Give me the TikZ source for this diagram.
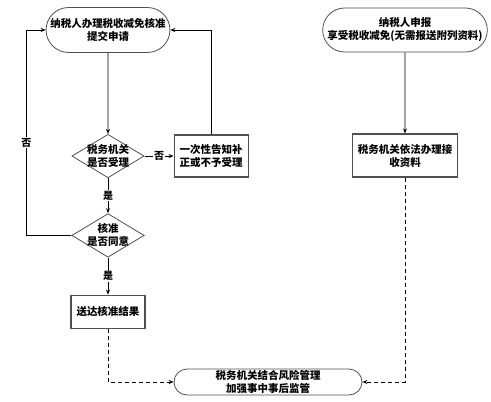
\documentclass[tikz,border=0pt]{standalone}
\usepackage{fontspec}
\setmainfont{Noto Sans CJK SC}
\usepackage{tikz}
\usetikzlibrary{arrows.meta,positioning,shapes.geometric,shapes.misc}
\definecolor{edge}{HTML}{505050}
\tikzset{
  blk/.style={draw=edge,line width=1.3pt,align=center,font=\fontsize{10.5}{13}\selectfont\bfseries,
              inner sep=1pt,fill=white},
  term/.style={blk,rounded rectangle,line width=0.8pt},
  dec/.style={blk,diamond,aspect=1.66,line width=0.8pt,inner sep=-1.5pt},
  box/.style={blk,rectangle},
  lbl/.style={font=\fontsize{10}{12}\selectfont\bfseries,fill=white,inner sep=1pt},
  arr/.style={-{Stealth[length=5pt,width=4pt]},line width=0.8pt,black},
  darr/.style={arr,dash pattern=on 4pt off 3pt},
}
\begin{document}
\begin{tikzpicture}[x=1pt,y=1pt]
  \useasboundingbox (0,0) rectangle (491,-402);
  \node[term,minimum width=118pt,minimum height=45pt] (apply) at (108,-30)
       {纳税人办理税收减免核准\\提交申请};
  \node[dec,below=81pt of apply] (accept) {税务机关\\是否受理};
  \node[box,minimum width=74pt,minimum height=42pt,right=29pt of accept] (notify) {一次性告知补\\正或不予受理};
  \node[dec,below=35pt of accept] (approve) {核准\\是否同意};
  \node[box,minimum width=74pt,minimum height=33pt,below=37pt of approve] (result) {送达核准结果};

  \node[term,minimum width=162pt,minimum height=44pt] (declare) at (405,-30)
       {纳税人申报\\享受税收减免(无需报送附列资料)};
  \node[box,minimum width=105pt,minimum height=43pt,below=81pt of declare] (receive) {税务机关依法办理接\\收资料};

  \node[term,minimum width=190pt,minimum height=26pt] (monitor) at (268,-382)
       {税务机关结合风险管理\\加强事中事后监管};

  \draw[arr] (apply) -- (accept);
  \draw[arr] (accept) -- node[lbl]{是} (approve);
  \draw[arr] (approve) -- node[lbl]{是} (result);
  \draw[arr] (accept) -- node[lbl]{否} (notify);
  \draw[arr] (notify.north) |- (apply.east);
  \draw[arr] (approve.west) -- ++(-45,0) coordinate (loop)
       -- node[lbl,pos=0.45]{否} (loop |- apply.west) -- (apply.west);
  \draw[arr] (declare) -- (receive);
  \draw[darr] (result.south) |- (monitor.west);
  \draw[darr] (receive.south) |- (monitor.east);
\end{tikzpicture}
\end{document}
